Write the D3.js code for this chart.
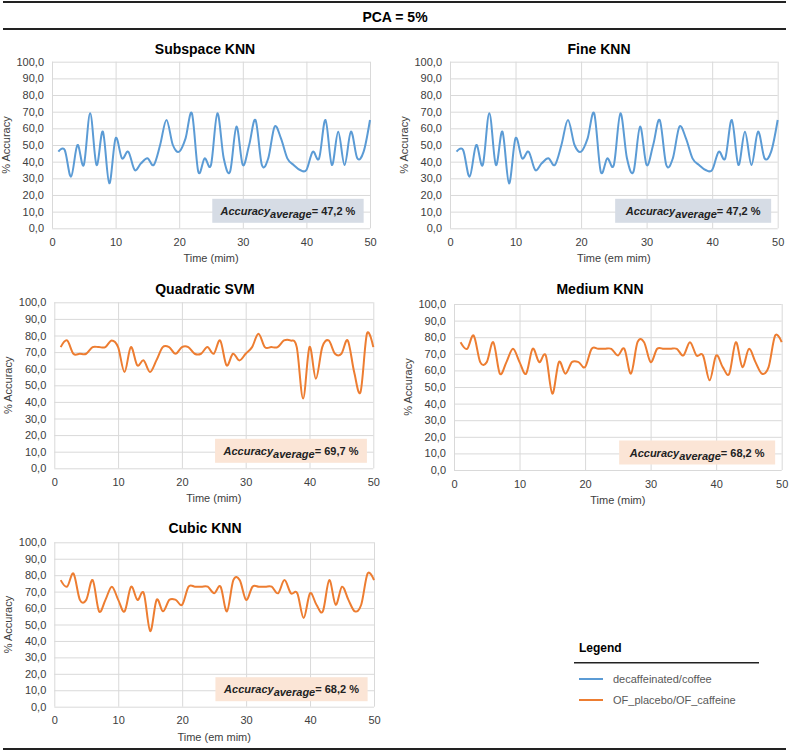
<!DOCTYPE html>
<html>
<head>
<meta charset="utf-8">
<script src="https://cdn.jsdelivr.net/npm/d3@7"></script>
<style>
  body { margin: 0; background: #fff; }
  text { font-family: "Liberation Sans", Arial, sans-serif; }
</style>
</head>
<body>
<svg id="chart" width="789" height="752"></svg>
<script>
const time = [1, 2, 3, 4, 5, 6, 7, 8, 9, 10, 11, 12, 13, 14, 15, 16, 17, 18, 19, 20,
    21, 22, 23, 24, 25, 26, 27, 28, 29, 30, 31, 32, 33, 34, 35, 36, 37, 38, 39, 40,
    41, 42, 43, 44, 45, 46, 47, 48, 49, 50];

const subspaceKnn = [46, 47, 31, 50, 38, 69, 38, 58, 27, 54, 42, 46, 35, 39, 42, 38, 50, 65, 50, 46,
    54, 69, 34, 42, 38, 69, 42, 34, 61, 38, 50, 65, 38, 42, 61, 54, 42, 38, 35, 35,
    46, 42, 65, 38, 58, 38, 58, 42, 46, 65];

const fineKnn = [46, 47, 31, 50, 38, 69, 38, 58, 27, 54, 42, 46, 35, 39, 42, 38, 50, 65, 50, 46,
    54, 69, 34, 42, 38, 69, 42, 34, 61, 38, 50, 65, 38, 42, 61, 54, 42, 38, 35, 35,
    46, 42, 65, 38, 58, 38, 58, 42, 46, 65];

const quadraticSvm = [73, 77, 69, 69, 69, 73, 73, 73, 77, 73, 58, 73, 62, 65, 58, 65, 73, 73, 69, 73,
    73, 69, 69, 73, 69, 77, 62, 69, 65, 69, 73, 81, 73, 73, 73, 77, 77, 73, 42, 73,
    54, 73, 77, 69, 69, 77, 58, 46, 81, 73];

const mediumKnn = [77, 73, 81, 65, 65, 77, 58, 65, 73, 65, 58, 73, 65, 69, 46, 65, 58, 65, 65, 62,
    73, 73, 73, 73, 69, 73, 58, 77, 77, 65, 73, 73, 73, 73, 69, 77, 69, 69, 54, 69,
    62, 58, 77, 62, 73, 65, 58, 62, 81, 77];

const cubicKnn = [77, 73, 81, 65, 65, 77, 58, 65, 73, 65, 58, 73, 65, 69, 46, 65, 58, 65, 65, 62,
    73, 73, 73, 73, 69, 73, 58, 77, 77, 65, 73, 73, 73, 73, 69, 77, 69, 69, 54, 69,
    62, 58, 77, 62, 73, 65, 58, 62, 81, 77];

const panelTitles = ["Subspace KNN", "Fine KNN", "Quadratic SVM", "Medium KNN", "Cubic KNN"];
const xTitles = ["Time (mim)", "Time (em mim)", "Time (mim)", "Time (mim)", "Time (em mim)"];
const averages = ["47,2", "47,2", "69,7", "68,2", "68,2"];
const seriesNames = ["decaffeinated/coffee", "OF_placebo/OF_caffeine"];
const xTicks = [0, 10, 20, 30, 40, 50];
const yTicks = [0, 10, 20, 30, 40, 50, 60, 70, 80, 90, 100];

const colors = ["#5b9bd5", "#ed7d31"];
const boxFills = ["#d6dce5", "#fbe5d6"];

// panel frames (plot area in px)
const panels = [
    { values: subspaceKnn, s: 0, x0: 52, x1: 370, top: 61.7, bottom: 228.3, tx: 205, ty: 54 },
    { values: fineKnn, s: 0, x0: 450, x1: 777.7, top: 61.7, bottom: 228.3, tx: 599, ty: 54 },
    { values: quadraticSvm, s: 1, x0: 54.3, x1: 373.3, top: 302.3, bottom: 468.3, tx: 205, ty: 294 },
    { values: mediumKnn, s: 1, x0: 454, x1: 781.7, top: 304, bottom: 470, tx: 600, ty: 294 },
    { values: cubicKnn, s: 1, x0: 54.3, x1: 374, top: 542.3, bottom: 706.7, tx: 205, ty: 533 }
];

const svg = d3.select("#chart");

// Header

svg.append("line")
    .attr("x1", 3).attr("x2", 786).attr("y1", 2).attr("y2", 2)
    .attr("stroke", "#222").attr("stroke-width", 2);

svg.append("text")
    .attr("x", 395)
    .attr("y", 22)
    .attr("text-anchor", "middle")
    .style("font-size", "14px")
    .style("font-weight", "bold")
    .text("PCA = 5%");

svg.append("line")
    .attr("x1", 3).attr("x2", 786).attr("y1", 29).attr("y2", 29)
    .attr("stroke", "#222").attr("stroke-width", 2);

svg.append("line")
    .attr("x1", 3).attr("x2", 786).attr("y1", 749).attr("y2", 749)
    .attr("stroke", "#222").attr("stroke-width", 2);

// Panels

panels.forEach((p, i) => {
    const g = svg.append("g");

    const x = d3.scaleLinear().domain([0, 50]).range([p.x0, p.x1]);
    const y = d3.scaleLinear().domain([0, 100]).range([p.bottom, p.top]);

    // grid
    g.append("g")
        .attr("transform", `translate(0,${p.bottom})`)
        .call(d3.axisBottom(x).tickValues(xTicks).tickSize(-(p.bottom - p.top)).tickFormat(""))
        .call(a => a.select(".domain").remove())
        .selectAll("line").attr("stroke", "#d9d9d9");

    g.append("g")
        .attr("transform", `translate(${p.x0},0)`)
        .call(d3.axisLeft(y).tickValues(yTicks).tickSize(-(p.x1 - p.x0)).tickFormat(""))
        .call(a => a.select(".domain").remove())
        .selectAll("line").attr("stroke", "#d9d9d9");

    // tick labels
    g.append("g")
        .attr("transform", `translate(0,${p.bottom})`)
        .call(d3.axisBottom(x).tickValues(xTicks).tickSize(0).tickPadding(10))
        .call(a => a.select(".domain").remove())
        .selectAll("text")
        .style("font-family", "Liberation Sans, Arial, sans-serif")
        .style("font-size", "11px")
        .attr("fill", "#404040");

    g.append("g")
        .attr("transform", `translate(${p.x0},0)`)
        .call(d3.axisLeft(y).tickValues(yTicks).tickSize(0).tickPadding(8)
            .tickFormat(d => d3.format(".1f")(d).replace(".", ",")))
        .call(a => a.select(".domain").remove())
        .selectAll("text")
        .style("font-family", "Liberation Sans, Arial, sans-serif")
        .style("font-size", "11px")
        .attr("fill", "#404040");

    // titles
    g.append("text")
        .attr("x", p.tx)
        .attr("y", p.ty)
        .attr("text-anchor", "middle")
        .style("font-size", "14px")
        .style("font-weight", "bold")
        .text(panelTitles[i]);

    g.append("text")
        .attr("x", (p.x0 + p.x1) / 2)
        .attr("y", p.bottom + 34)
        .attr("text-anchor", "middle")
        .attr("fill", "#404040")
        .style("font-size", "11px")
        .text(xTitles[i]);

    g.append("text")
        .attr("transform", `translate(${p.x0 - 42},${(p.top + p.bottom) / 2}) rotate(-90)`)
        .attr("text-anchor", "middle")
        .attr("fill", "#404040")
        .style("font-size", "11px")
        .text("% Accuracy");

    // average box
    const bx0 = x(25) - 0.3, bx1 = x(49);
    const by = y(18);
    g.append("rect")
        .attr("x", p.x0 + (p.x1 - p.x0) * 0.504)
        .attr("y", p.bottom - 29.5)
        .attr("width", (p.x1 - p.x0) * 0.476)
        .attr("height", 24)
        .attr("fill", boxFills[p.s]);

    const label = g.append("text")
        .attr("x", p.x0 + (p.x1 - p.x0) * 0.742)
        .attr("y", p.bottom - 13.5)
        .attr("text-anchor", "middle")
        .attr("fill", "#222")
        .style("font-size", "11px")
        .style("font-weight", "bold");
    label.append("tspan").style("font-style", "italic").text("Accuracy");
    label.append("tspan").style("font-style", "italic").attr("dy", 3).text("average");
    label.append("tspan").attr("dy", -3).text(`= ${averages[i]} %`);

    // line
    const line = d3.line()
        .x((d, j) => x(time[j]))
        .y(d => y(d))
        .curve(d3.curveCardinal.tension(0));

    g.append("path")
        .datum(p.values)
        .attr("fill", "none")
        .attr("stroke", colors[p.s])
        .attr("stroke-width", 2)
        .attr("d", line);
});

// Legend

const legend = svg.append("g");

legend.append("text")
    .attr("x", 579)
    .attr("y", 652)
    .style("font-size", "12px")
    .style("font-weight", "bold")
    .text("Legend");

legend.append("line")
    .attr("x1", 574).attr("x2", 759).attr("y1", 662.7).attr("y2", 662.7)
    .attr("stroke", "#222").attr("stroke-width", 1.5);

seriesNames.forEach((name, i) => {
    const yy = 679 + i * 21;
    legend.append("line")
        .attr("x1", 579).attr("x2", 603).attr("y1", yy).attr("y2", yy)
        .attr("stroke", colors[i]).attr("stroke-width", 2);
    legend.append("text")
        .attr("x", 613)
        .attr("y", yy + 4)
        .attr("fill", "#595959")
        .style("font-size", "11px")
        .text(name);
});
</script>
</body>
</html>
